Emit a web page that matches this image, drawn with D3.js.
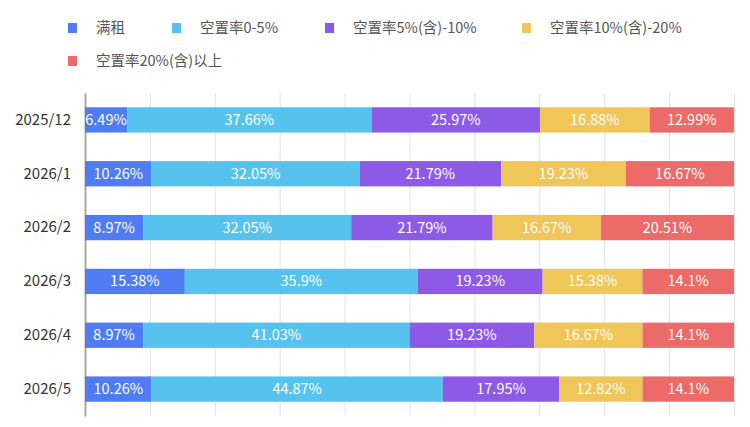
<!DOCTYPE html>
<html>
<head>
<meta charset="utf-8">
<script src="https://cdn.jsdelivr.net/npm/d3@7"></script>
<style>
  body { margin: 0; background: #fff; }
  svg text { font-family: "Noto Sans CJK SC", "Noto Sans", sans-serif; }
</style>
</head>
<body>
<div id="chart"></div>
<script>
// categories (top to bottom)
var months = ['2025/12', '2026/1', '2026/2', '2026/3', '2026/4', '2026/5'];
var seriesNames = ['满租', '空置率0-5%', '空置率5%(含)-10%', '空置率10%(含)-20%', '空置率20%(含)以上'];
var seriesColors = ['#4f7cf2', '#56c3ef', '#8c5ae6', '#efc657', '#ec6a67'];

// one array per series, in month order
var fullRent   = [6.49, 10.26, 8.97, 15.38, 8.97, 10.26];
var vac0to5    = [37.66, 32.05, 32.05, 35.9, 41.03, 44.87];
var vac5to10   = [25.97, 21.79, 21.79, 19.23, 19.23, 17.95];
var vac10to20  = [16.88, 19.23, 16.67, 15.38, 16.67, 12.82];
var vac20plus  = [12.99, 16.67, 20.51, 14.1, 14.1, 14.1];

var seriesValues = [fullRent, vac0to5, vac5to10, vac10to20, vac20plus];
var xTicks = [0, 10, 20, 30, 40, 50, 60, 70, 80, 90, 100];

var width = 750, height = 427;
var margin = {top: 93, right: 16, bottom: 11, left: 85};
var innerW = width - margin.left - margin.right;
var innerH = height - margin.top - margin.bottom;

var svg = d3.select('#chart').append('svg')
    .attr('width', width)
    .attr('height', height);

var g = svg.append('g')
    .attr('transform', `translate(${margin.left},${margin.top})`);

// Scales setup
var xScale = d3.scaleLinear().domain([0, 100]).range([0, innerW]);
var yScale = d3.scaleBand().domain(months).range([0, innerH]).paddingInner(0.53).paddingOuter(0.265);

// gridlines
g.append('g').attr('class', 'grid')
    .call(d3.axisBottom(xScale).tickValues(xTicks).tickSize(innerH).tickFormat(''))
    .call(s => s.select('.domain').remove())
    .call(s => s.selectAll('line').attr('stroke', '#e3e3e3').attr('stroke-width', 1));

// y axis
g.append('g').attr('class', 'y axis')
    .call(d3.axisLeft(yScale).tickSize(0).tickPadding(14))
    .call(s => s.select('.domain').attr('stroke', '#a8a8a8').attr('stroke-width', 2))
    .call(s => s.selectAll('text').attr('fill', '#333').style('font-size', '15px'));

// stacked rows
var rows = months.map(function(m, i) {
    var row = {month: m};
    seriesNames.forEach(function(n, j) { row[n] = seriesValues[j][i]; });
    return row;
});
var stacked = d3.stack().keys(seriesNames)(rows);

var layer = g.selectAll('g.layer').data(stacked).enter().append('g')
    .attr('class', 'layer')
    .attr('fill', (d, i) => seriesColors[i]);

layer.selectAll('rect').data(d => d).enter().append('rect')
    .attr('x', d => xScale(d[0]))
    .attr('y', d => yScale(d.data.month))
    .attr('width', d => xScale(d[1]) - xScale(d[0]))
    .attr('height', yScale.bandwidth());

layer.selectAll('text').data(d => d).enter().append('text')
    .attr('x', d => (xScale(d[0]) + xScale(d[1])) / 2)
    .attr('y', d => yScale(d.data.month) + yScale.bandwidth() / 2)
    .attr('dy', '0.35em')
    .attr('text-anchor', 'middle')
    .attr('fill', '#fff')
    .style('font-size', '14.5px')
    .text(function(d) {
        var key = d3.select(this.parentNode).datum().key;
        return d.data[key] + '%';
    });

// legend
var legendPos = [[68, 28], [172, 28], [325, 28], [522, 28], [68, 61]];
var legend = svg.append('g').attr('class', 'legend');
var item = legend.selectAll('g').data(seriesNames).enter().append('g')
    .attr('transform', (d, i) => `translate(${legendPos[i][0]},${legendPos[i][1]})`);
item.append('rect')
    .attr('x', 0).attr('y', -5)
    .attr('width', 9).attr('height', 10)
    .attr('fill', (d, i) => seriesColors[i]);
item.append('text')
    .attr('x', 28).attr('dy', '0.35em')
    .attr('fill', '#555')
    .style('font-size', '14.5px')
    .text(d => d);
</script>
</body>
</html>
